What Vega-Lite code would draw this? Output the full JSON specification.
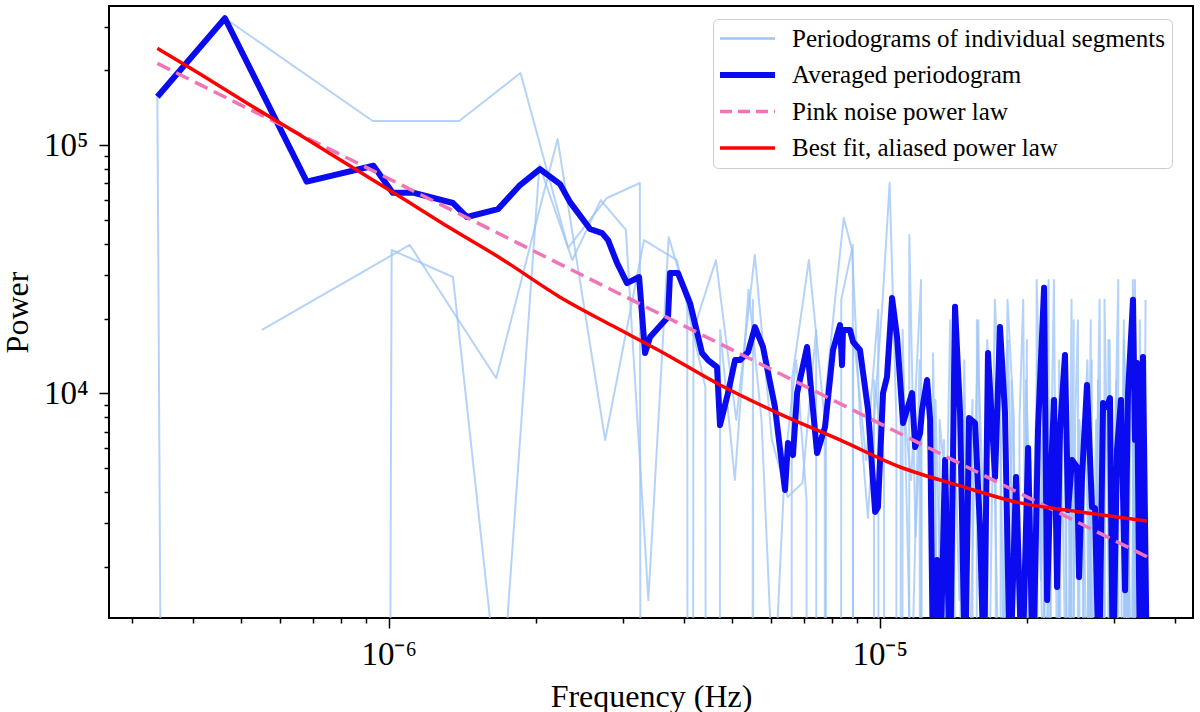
{
  "$schema": "https://vega.github.io/schema/vega-lite/v6.json",
  "width": 1084,
  "height": 612,
  "autosize": {"type": "none"},
  "padding": {"left": 109, "top": 6, "right": 7, "bottom": 94},
  "background": "white",
  "config": {
    "view": {"stroke": "black", "strokeWidth": 2},
    "font": "Liberation Serif"
  },
  "datasets": {
    "segments": [
      {"series":"seg","seg":"A","freq":3.38e-7,"power":156500},
      {"series":"seg","seg":"A","freq":6.76e-7,"power":1e-100},
      {"series":"seg","seg":"A","freq":1.014e-6,"power":37800},
      {"series":"seg","seg":"A","freq":1.352e-6,"power":29400},
      {"series":"seg","seg":"A","freq":1.69e-6,"power":500},
      {"series":"seg","seg":"A","freq":2.028e-6,"power":83000},
      {"series":"seg","seg":"A","freq":2.366e-6,"power":34400},
      {"series":"seg","seg":"A","freq":2.704e-6,"power":60000},
      {"series":"seg","seg":"A","freq":3.042e-6,"power":45500},
      {"series":"seg","seg":"A","freq":3.38e-6,"power":1470},
      {"series":"seg","seg":"A","freq":3.718e-6,"power":42600},
      {"series":"seg","seg":"A","freq":4.056e-6,"power":23800},
      {"series":"seg","seg":"A","freq":4.394e-6,"power":1e-100},
      {"series":"seg","seg":"A","freq":4.732e-6,"power":18000},
      {"series":"seg","seg":"A","freq":5.07e-6,"power":4480},
      {"series":"seg","seg":"A","freq":5.408e-6,"power":26100},
      {"series":"seg","seg":"A","freq":5.746e-6,"power":7810},
      {"series":"seg","seg":"A","freq":6.084e-6,"power":580},
      {"series":"seg","seg":"A","freq":6.422e-6,"power":5390},
      {"series":"seg","seg":"A","freq":6.76e-6,"power":13600},
      {"series":"seg","seg":"A","freq":7.098e-6,"power":3720},
      {"series":"seg","seg":"A","freq":7.436e-6,"power":1e-100},
      {"series":"seg","seg":"A","freq":7.774e-6,"power":10300},
      {"series":"seg","seg":"A","freq":8.112e-6,"power":23800},
      {"series":"seg","seg":"A","freq":8.45e-6,"power":50800},
      {"series":"seg","seg":"A","freq":8.788e-6,"power":37800},
      {"series":"seg","seg":"A","freq":9.126e-6,"power":7810},
      {"series":"seg","seg":"A","freq":9.464e-6,"power":3150},
      {"series":"seg","seg":"A","freq":9.802e-6,"power":9400},
      {"series":"seg","seg":"A","freq":1.014e-5,"power":23800},
      {"series":"seg","seg":"A","freq":1.0478e-5,"power":70300},
      {"series":"seg","seg":"A","freq":1.0816e-5,"power":7810},
      {"series":"seg","seg":"A","freq":1.1154e-5,"power":1e-100},
      {"series":"seg","seg":"A","freq":1.1492e-5,"power":43400},
      {"series":"seg","seg":"A","freq":1.183e-5,"power":2640},
      {"series":"seg","seg":"A","freq":1.2168e-5,"power":9400},
      {"series":"seg","seg":"A","freq":1.2506e-5,"power":1e-100},
      {"series":"seg","seg":"A","freq":1.2844e-5,"power":14500},
      {"series":"seg","seg":"A","freq":1.3182e-5,"power":580},
      {"series":"seg","seg":"A","freq":1.352e-5,"power":6490},
      {"series":"seg","seg":"A","freq":1.3858e-5,"power":1e-100},
      {"series":"seg","seg":"A","freq":1.4196e-5,"power":7810},
      {"series":"seg","seg":"A","freq":1.4534e-5,"power":1470},
      {"series":"seg","seg":"A","freq":1.4872e-5,"power":13600},
      {"series":"seg","seg":"A","freq":1.521e-5,"power":580},
      {"series":"seg","seg":"A","freq":1.5548e-5,"power":3720},
      {"series":"seg","seg":"A","freq":1.5886e-5,"power":19700},
      {"series":"seg","seg":"A","freq":1.6224e-5,"power":230},
      {"series":"seg","seg":"A","freq":1.6562e-5,"power":9400},
      {"series":"seg","seg":"A","freq":1.69e-5,"power":1e-100},
      {"series":"seg","seg":"A","freq":1.7238e-5,"power":4480},
      {"series":"seg","seg":"A","freq":1.7576e-5,"power":11300},
      {"series":"seg","seg":"A","freq":1.7914e-5,"power":580},
      {"series":"seg","seg":"A","freq":1.8252e-5,"power":16400},
      {"series":"seg","seg":"A","freq":1.859e-5,"power":3090},
      {"series":"seg","seg":"A","freq":1.8928e-5,"power":1e-100},
      {"series":"seg","seg":"A","freq":1.9266e-5,"power":7810},
      {"series":"seg","seg":"A","freq":1.9604e-5,"power":23800},
      {"series":"seg","seg":"A","freq":1.9942e-5,"power":230},
      {"series":"seg","seg":"A","freq":2.028e-5,"power":5390},
      {"series":"seg","seg":"A","freq":2.0618e-5,"power":1e-100},
      {"series":"seg","seg":"A","freq":2.0956e-5,"power":9400},
      {"series":"seg","seg":"A","freq":2.1294e-5,"power":1770},
      {"series":"seg","seg":"A","freq":2.1632e-5,"power":13600},
      {"series":"seg","seg":"A","freq":2.197e-5,"power":1e-100},
      {"series":"seg","seg":"A","freq":2.2308e-5,"power":4480},
      {"series":"seg","seg":"A","freq":2.2646e-5,"power":28600},
      {"series":"seg","seg":"A","freq":2.2984e-5,"power":580},
      {"series":"seg","seg":"A","freq":2.3322e-5,"power":6490},
      {"series":"seg","seg":"A","freq":2.366e-5,"power":1e-100},
      {"series":"seg","seg":"A","freq":2.3998e-5,"power":11300},
      {"series":"seg","seg":"A","freq":2.4336e-5,"power":2570},
      {"series":"seg","seg":"A","freq":2.4674e-5,"power":230},
      {"series":"seg","seg":"A","freq":2.5012e-5,"power":7810},
      {"series":"seg","seg":"A","freq":2.535e-5,"power":19700},
      {"series":"seg","seg":"A","freq":2.5688e-5,"power":1e-100},
      {"series":"seg","seg":"A","freq":2.6026e-5,"power":3720},
      {"series":"seg","seg":"A","freq":2.6364e-5,"power":9400},
      {"series":"seg","seg":"A","freq":2.6702e-5,"power":580},
      {"series":"seg","seg":"A","freq":2.704e-5,"power":13600},
      {"series":"seg","seg":"A","freq":2.7378e-5,"power":1e-100},
      {"series":"seg","seg":"A","freq":2.7716e-5,"power":5390},
      {"series":"seg","seg":"A","freq":2.8054e-5,"power":23800},
      {"series":"seg","seg":"A","freq":2.8392e-5,"power":230},
      {"series":"seg","seg":"A","freq":2.873e-5,"power":7810},
      {"series":"seg","seg":"A","freq":2.9068e-5,"power":1e-100},
      {"series":"seg","seg":"A","freq":2.9406e-5,"power":16400},
      {"series":"seg","seg":"A","freq":2.9744e-5,"power":2130},
      {"series":"seg","seg":"A","freq":3.0082e-5,"power":580},
      {"series":"seg","seg":"A","freq":3.042e-5,"power":9400},
      {"series":"seg","seg":"A","freq":3.0758e-5,"power":1e-100},
      {"series":"seg","seg":"A","freq":3.1096e-5,"power":4480},
      {"series":"seg","seg":"A","freq":3.1434e-5,"power":19700},
      {"series":"seg","seg":"A","freq":3.1772e-5,"power":230},
      {"series":"seg","seg":"A","freq":3.211e-5,"power":6490},
      {"series":"seg","seg":"A","freq":3.2448e-5,"power":1e-100},
      {"series":"seg","seg":"A","freq":3.2786e-5,"power":28600},
      {"series":"seg","seg":"A","freq":3.3124e-5,"power":1470},
      {"series":"seg","seg":"A","freq":3.3462e-5,"power":1e-100},
      {"series":"seg","seg":"A","freq":3.38e-5,"power":11300},
      {"series":"seg","seg":"A","freq":3.4138e-5,"power":580},
      {"series":"seg","seg":"A","freq":3.4476e-5,"power":13600},
      {"series":"seg","seg":"A","freq":3.4814e-5,"power":1e-100},
      {"series":"seg","seg":"B","freq":4.64e-7,"power":324000},
      {"series":"seg","seg":"B","freq":9.28e-7,"power":124900},
      {"series":"seg","seg":"B","freq":1.392e-6,"power":124900},
      {"series":"seg","seg":"B","freq":1.856e-6,"power":195000},
      {"series":"seg","seg":"B","freq":2.32e-6,"power":38500},
      {"series":"seg","seg":"B","freq":2.784e-6,"power":61200},
      {"series":"seg","seg":"B","freq":3.248e-6,"power":70300},
      {"series":"seg","seg":"B","freq":3.712e-6,"power":1e-100},
      {"series":"seg","seg":"B","freq":4.176e-6,"power":18000},
      {"series":"seg","seg":"B","freq":4.64e-6,"power":34400},
      {"series":"seg","seg":"B","freq":5.104e-6,"power":7810},
      {"series":"seg","seg":"B","freq":5.568e-6,"power":36100},
      {"series":"seg","seg":"B","freq":6.032e-6,"power":6490},
      {"series":"seg","seg":"B","freq":6.496e-6,"power":3820},
      {"series":"seg","seg":"B","freq":6.96e-6,"power":4350},
      {"series":"seg","seg":"B","freq":7.424e-6,"power":18000},
      {"series":"seg","seg":"B","freq":7.888e-6,"power":1e-100},
      {"series":"seg","seg":"B","freq":8.352e-6,"power":23800},
      {"series":"seg","seg":"B","freq":8.816e-6,"power":39600},
      {"series":"seg","seg":"B","freq":9.28e-6,"power":1e-100},
      {"series":"seg","seg":"B","freq":9.744e-6,"power":11300},
      {"series":"seg","seg":"B","freq":1.0208e-5,"power":5390},
      {"series":"seg","seg":"B","freq":1.0672e-5,"power":1e-100},
      {"series":"seg","seg":"B","freq":1.1136e-5,"power":18000},
      {"series":"seg","seg":"B","freq":1.16e-5,"power":580},
      {"series":"seg","seg":"B","freq":1.2064e-5,"power":13600},
      {"series":"seg","seg":"B","freq":1.2528e-5,"power":1e-100},
      {"series":"seg","seg":"B","freq":1.2992e-5,"power":9400},
      {"series":"seg","seg":"B","freq":1.3456e-5,"power":580},
      {"series":"seg","seg":"B","freq":1.392e-5,"power":19700},
      {"series":"seg","seg":"B","freq":1.4384e-5,"power":230},
      {"series":"seg","seg":"B","freq":1.4848e-5,"power":7810},
      {"series":"seg","seg":"B","freq":1.5312e-5,"power":1e-100},
      {"series":"seg","seg":"B","freq":1.5776e-5,"power":19700},
      {"series":"seg","seg":"B","freq":1.624e-5,"power":3720},
      {"series":"seg","seg":"B","freq":1.6704e-5,"power":580},
      {"series":"seg","seg":"B","freq":1.7168e-5,"power":23800},
      {"series":"seg","seg":"B","freq":1.7632e-5,"power":6490},
      {"series":"seg","seg":"B","freq":1.8096e-5,"power":1e-100},
      {"series":"seg","seg":"B","freq":1.856e-5,"power":11300},
      {"series":"seg","seg":"B","freq":1.9024e-5,"power":2130},
      {"series":"seg","seg":"B","freq":1.9488e-5,"power":230},
      {"series":"seg","seg":"B","freq":1.9952e-5,"power":16400},
      {"series":"seg","seg":"B","freq":2.0416e-5,"power":1e-100},
      {"series":"seg","seg":"B","freq":2.088e-5,"power":28600},
      {"series":"seg","seg":"B","freq":2.1344e-5,"power":5390},
      {"series":"seg","seg":"B","freq":2.1808e-5,"power":580},
      {"series":"seg","seg":"B","freq":2.2272e-5,"power":9400},
      {"series":"seg","seg":"B","freq":2.2736e-5,"power":1e-100},
      {"series":"seg","seg":"B","freq":2.32e-5,"power":13600},
      {"series":"seg","seg":"B","freq":2.3664e-5,"power":2570},
      {"series":"seg","seg":"B","freq":2.4128e-5,"power":230},
      {"series":"seg","seg":"B","freq":2.4592e-5,"power":23800},
      {"series":"seg","seg":"B","freq":2.5056e-5,"power":1e-100},
      {"series":"seg","seg":"B","freq":2.552e-5,"power":7810},
      {"series":"seg","seg":"B","freq":2.5984e-5,"power":4480},
      {"series":"seg","seg":"B","freq":2.6448e-5,"power":580},
      {"series":"seg","seg":"B","freq":2.6912e-5,"power":19700},
      {"series":"seg","seg":"B","freq":2.7376e-5,"power":1e-100},
      {"series":"seg","seg":"B","freq":2.784e-5,"power":11300},
      {"series":"seg","seg":"B","freq":2.8304e-5,"power":1770},
      {"series":"seg","seg":"B","freq":2.8768e-5,"power":1e-100},
      {"series":"seg","seg":"B","freq":2.9232e-5,"power":16400},
      {"series":"seg","seg":"B","freq":2.9696e-5,"power":230},
      {"series":"seg","seg":"B","freq":3.016e-5,"power":6490},
      {"series":"seg","seg":"B","freq":3.0624e-5,"power":28600},
      {"series":"seg","seg":"B","freq":3.1088e-5,"power":1e-100},
      {"series":"seg","seg":"B","freq":3.1552e-5,"power":9400},
      {"series":"seg","seg":"B","freq":3.2016e-5,"power":580},
      {"series":"seg","seg":"B","freq":3.248e-5,"power":13600},
      {"series":"seg","seg":"B","freq":3.2944e-5,"power":3720},
      {"series":"seg","seg":"B","freq":3.3408e-5,"power":1e-100},
      {"series":"seg","seg":"B","freq":3.3872e-5,"power":19700},
      {"series":"seg","seg":"B","freq":3.4336e-5,"power":230},
      {"series":"seg","seg":"B","freq":3.48e-5,"power":23800},
      {"series":"seg","seg":"C","freq":5.52e-7,"power":18000},
      {"series":"seg","seg":"C","freq":1.104e-6,"power":39600},
      {"series":"seg","seg":"C","freq":1.656e-6,"power":11500},
      {"series":"seg","seg":"C","freq":2.208e-6,"power":105700},
      {"series":"seg","seg":"C","freq":2.76e-6,"power":6490},
      {"series":"seg","seg":"C","freq":3.312e-6,"power":41400},
      {"series":"seg","seg":"C","freq":3.864e-6,"power":34400},
      {"series":"seg","seg":"C","freq":4.416e-6,"power":10600},
      {"series":"seg","seg":"C","freq":4.968e-6,"power":1e-100},
      {"series":"seg","seg":"C","freq":5.52e-6,"power":23800},
      {"series":"seg","seg":"C","freq":6.072e-6,"power":1e-100},
      {"series":"seg","seg":"C","freq":6.624e-6,"power":11300},
      {"series":"seg","seg":"C","freq":7.176e-6,"power":34400},
      {"series":"seg","seg":"C","freq":7.728e-6,"power":7810},
      {"series":"seg","seg":"C","freq":8.28e-6,"power":1e-100},
      {"series":"seg","seg":"C","freq":8.832e-6,"power":18000},
      {"series":"seg","seg":"C","freq":9.384e-6,"power":5390},
      {"series":"seg","seg":"C","freq":9.936e-6,"power":21700},
      {"series":"seg","seg":"C","freq":1.0488e-5,"power":1e-100},
      {"series":"seg","seg":"C","freq":1.104e-5,"power":11300},
      {"series":"seg","seg":"C","freq":1.1592e-5,"power":4480},
      {"series":"seg","seg":"C","freq":1.2144e-5,"power":28600},
      {"series":"seg","seg":"C","freq":1.2696e-5,"power":1e-100},
      {"series":"seg","seg":"C","freq":1.3248e-5,"power":7810},
      {"series":"seg","seg":"C","freq":1.38e-5,"power":3090},
      {"series":"seg","seg":"C","freq":1.4352e-5,"power":19700},
      {"series":"seg","seg":"C","freq":1.4904e-5,"power":580},
      {"series":"seg","seg":"C","freq":1.5456e-5,"power":9400},
      {"series":"seg","seg":"C","freq":1.6008e-5,"power":1e-100},
      {"series":"seg","seg":"C","freq":1.656e-5,"power":16400},
      {"series":"seg","seg":"C","freq":1.7112e-5,"power":5390},
      {"series":"seg","seg":"C","freq":1.7664e-5,"power":230},
      {"series":"seg","seg":"C","freq":1.8216e-5,"power":23800},
      {"series":"seg","seg":"C","freq":1.8768e-5,"power":7810},
      {"series":"seg","seg":"C","freq":1.932e-5,"power":1e-100},
      {"series":"seg","seg":"C","freq":1.9872e-5,"power":11300},
      {"series":"seg","seg":"C","freq":2.0424e-5,"power":2130},
      {"series":"seg","seg":"C","freq":2.0976e-5,"power":13600},
      {"series":"seg","seg":"C","freq":2.1528e-5,"power":580},
      {"series":"seg","seg":"C","freq":2.208e-5,"power":28600},
      {"series":"seg","seg":"C","freq":2.2632e-5,"power":1e-100},
      {"series":"seg","seg":"C","freq":2.3184e-5,"power":6490},
      {"series":"seg","seg":"C","freq":2.3736e-5,"power":9400},
      {"series":"seg","seg":"C","freq":2.4288e-5,"power":230},
      {"series":"seg","seg":"C","freq":2.484e-5,"power":19700},
      {"series":"seg","seg":"C","freq":2.5392e-5,"power":1e-100},
      {"series":"seg","seg":"C","freq":2.5944e-5,"power":5390},
      {"series":"seg","seg":"C","freq":2.6496e-5,"power":13600},
      {"series":"seg","seg":"C","freq":2.7048e-5,"power":580},
      {"series":"seg","seg":"C","freq":2.76e-5,"power":7810},
      {"series":"seg","seg":"C","freq":2.8152e-5,"power":1e-100},
      {"series":"seg","seg":"C","freq":2.8704e-5,"power":23800},
      {"series":"seg","seg":"C","freq":2.9256e-5,"power":2570},
      {"series":"seg","seg":"C","freq":2.9808e-5,"power":230},
      {"series":"seg","seg":"C","freq":3.036e-5,"power":11300},
      {"series":"seg","seg":"C","freq":3.0912e-5,"power":1e-100},
      {"series":"seg","seg":"C","freq":3.1464e-5,"power":16400},
      {"series":"seg","seg":"C","freq":3.2016e-5,"power":4480},
      {"series":"seg","seg":"C","freq":3.2568e-5,"power":580},
      {"series":"seg","seg":"C","freq":3.312e-5,"power":28600},
      {"series":"seg","seg":"C","freq":3.3672e-5,"power":1e-100},
      {"series":"seg","seg":"C","freq":3.4224e-5,"power":9400},
      {"series":"seg","seg":"C","freq":3.4776e-5,"power":13600}
    ],
    "averaged": [
      {"series":"avg","freq":3.38e-7,"power":156500},
      {"series":"avg","freq":4.64e-7,"power":324000},
      {"series":"avg","freq":6.81e-7,"power":71200},
      {"series":"avg","freq":9.31e-7,"power":82500},
      {"series":"avg","freq":1.019e-6,"power":64300},
      {"series":"avg","freq":1.121e-6,"power":64300},
      {"series":"avg","freq":1.352e-6,"power":58400},
      {"series":"avg","freq":1.444e-6,"power":51300},
      {"series":"avg","freq":1.67e-6,"power":55200},
      {"series":"avg","freq":1.852e-6,"power":69000},
      {"series":"avg","freq":2.033e-6,"power":80000},
      {"series":"avg","freq":2.234e-6,"power":69600},
      {"series":"avg","freq":2.341e-6,"power":58900},
      {"series":"avg","freq":2.571e-6,"power":45900},
      {"series":"avg","freq":2.721e-6,"power":44200},
      {"series":"avg","freq":2.798e-6,"power":41400},
      {"series":"avg","freq":2.918e-6,"power":33500},
      {"series":"avg","freq":3.058e-6,"power":27800},
      {"series":"avg","freq":3.236e-6,"power":29400},
      {"series":"avg","freq":3.328e-6,"power":14530},
      {"series":"avg","freq":3.407e-6,"power":16850},
      {"series":"avg","freq":3.707e-6,"power":20300},
      {"series":"avg","freq":3.742e-6,"power":30500},
      {"series":"avg","freq":3.884e-6,"power":30500},
      {"series":"avg","freq":4.109e-6,"power":23100},
      {"series":"avg","freq":4.347e-6,"power":14530},
      {"series":"avg","freq":4.471e-6,"power":13620},
      {"series":"avg","freq":4.664e-6,"power":12760},
      {"series":"avg","freq":4.73e-6,"power":7450},
      {"series":"avg","freq":4.911e-6,"power":10030},
      {"series":"avg","freq":5.075e-6,"power":13620},
      {"series":"avg","freq":5.195e-6,"power":13620},
      {"series":"avg","freq":5.395e-6,"power":14670},
      {"series":"avg","freq":5.573e-6,"power":18490},
      {"series":"avg","freq":5.786e-6,"power":15370},
      {"series":"avg","freq":6.12e-6,"power":8810},
      {"series":"avg","freq":6.415e-6,"power":4080},
      {"series":"avg","freq":6.506e-6,"power":6310},
      {"series":"avg","freq":6.66e-6,"power":5640},
      {"series":"avg","freq":6.79e-6,"power":10030},
      {"series":"avg","freq":7.115e-6,"power":15370},
      {"series":"avg","freq":7.457e-6,"power":5750},
      {"series":"avg","freq":7.74e-6,"power":7320},
      {"series":"avg","freq":8.036e-6,"power":14940},
      {"series":"avg","freq":8.304e-6,"power":18840},
      {"series":"avg","freq":8.382e-6,"power":13000},
      {"series":"avg","freq":8.42e-6,"power":17980},
      {"series":"avg","freq":8.7e-6,"power":17980},
      {"series":"avg","freq":8.83e-6,"power":16090},
      {"series":"avg","freq":9.12e-6,"power":14940},
      {"series":"avg","freq":9.47e-6,"power":8570},
      {"series":"avg","freq":9.79e-6,"power":3330},
      {"series":"avg","freq":9.92e-6,"power":3480},
      {"series":"avg","freq":1.016e-5,"power":10030},
      {"series":"avg","freq":1.035e-5,"power":11630},
      {"series":"avg","freq":1.06e-5,"power":24200},
      {"series":"avg","freq":1.085e-5,"power":16850},
      {"series":"avg","freq":1.116e-5,"power":7590},
      {"series":"avg","freq":1.164e-5,"power":10030},
      {"series":"avg","freq":1.181e-5,"power":6080},
      {"series":"avg","freq":1.209e-5,"power":6920},
      {"series":"avg","freq":1.22e-5,"power":8570},
      {"series":"avg","freq":1.249e-5,"power":11310},
      {"series":"avg","freq":1.267e-5,"power":7810},
      {"series":"avg","freq":1.285e-5,"power":700},
      {"series":"avg","freq":1.309e-5,"power":2130},
      {"series":"avg","freq":1.327e-5,"power":700},
      {"series":"avg","freq":1.359e-5,"power":5390},
      {"series":"avg","freq":1.391e-5,"power":700},
      {"series":"avg","freq":1.424e-5,"power":22300},
      {"series":"avg","freq":1.458e-5,"power":8330},
      {"series":"avg","freq":1.493e-5,"power":700},
      {"series":"avg","freq":1.521e-5,"power":7950},
      {"series":"avg","freq":1.564e-5,"power":7590},
      {"series":"avg","freq":1.601e-5,"power":2890},
      {"series":"avg","freq":1.631e-5,"power":700},
      {"series":"avg","freq":1.662e-5,"power":14530},
      {"series":"avg","freq":1.718e-5,"power":4600},
      {"series":"avg","freq":1.758e-5,"power":18490},
      {"series":"avg","freq":1.8e-5,"power":8330},
      {"series":"avg","freq":1.843e-5,"power":700},
      {"series":"avg","freq":1.896e-5,"power":4600},
      {"series":"avg","freq":1.95e-5,"power":700},
      {"series":"avg","freq":2.006e-5,"power":6020},
      {"series":"avg","freq":2.053e-5,"power":700},
      {"series":"avg","freq":2.102e-5,"power":7250},
      {"series":"avg","freq":2.162e-5,"power":26600},
      {"series":"avg","freq":2.193e-5,"power":1470},
      {"series":"avg","freq":2.224e-5,"power":3970},
      {"series":"avg","freq":2.266e-5,"power":9400},
      {"series":"avg","freq":2.298e-5,"power":1660},
      {"series":"avg","freq":2.33e-5,"power":7120},
      {"series":"avg","freq":2.385e-5,"power":14260},
      {"series":"avg","freq":2.419e-5,"power":3390},
      {"series":"avg","freq":2.465e-5,"power":5390},
      {"series":"avg","freq":2.524e-5,"power":5050},
      {"series":"avg","freq":2.547e-5,"power":1820},
      {"series":"avg","freq":2.583e-5,"power":4600},
      {"series":"avg","freq":2.644e-5,"power":10800},
      {"series":"avg","freq":2.707e-5,"power":3480},
      {"series":"avg","freq":2.745e-5,"power":3450},
      {"series":"avg","freq":2.797e-5,"power":700},
      {"series":"avg","freq":2.851e-5,"power":9140},
      {"series":"avg","freq":2.904e-5,"power":8810},
      {"series":"avg","freq":2.945e-5,"power":9570},
      {"series":"avg","freq":2.987e-5,"power":700},
      {"series":"avg","freq":3.044e-5,"power":5910},
      {"series":"avg","freq":3.101e-5,"power":9400},
      {"series":"avg","freq":3.161e-5,"power":1610},
      {"series":"avg","freq":3.205e-5,"power":10030},
      {"series":"avg","freq":3.281e-5,"power":23800},
      {"series":"avg","freq":3.312e-5,"power":6490},
      {"series":"avg","freq":3.343e-5,"power":13240},
      {"series":"avg","freq":3.39e-5,"power":700},
      {"series":"avg","freq":3.438e-5,"power":14000},
      {"series":"avg","freq":3.503e-5,"power":700}
    ],
    "pink": [
      {"series":"pink","freq":3.38e-7,"power":213300},
      {"series":"pink","freq":3.503e-5,"power":2198}
    ],
    "fit": [
      {"series":"fit","freq":3.38e-7,"power":245100},
      {"series":"fit","freq":4.13e-7,"power":193100},
      {"series":"fit","freq":5.22e-7,"power":144900},
      {"series":"fit","freq":6.6e-7,"power":109700},
      {"series":"fit","freq":8.35e-7,"power":82300},
      {"series":"fit","freq":1.055e-6,"power":61900},
      {"series":"fit","freq":1.334e-6,"power":46300},
      {"series":"fit","freq":1.686e-6,"power":35100},
      {"series":"fit","freq":2.234e-6,"power":24400},
      {"series":"fit","freq":2.864e-6,"power":18660},
      {"series":"fit","freq":3.569e-6,"power":14810},
      {"series":"fit","freq":4.732e-6,"power":10800},
      {"series":"fit","freq":6.27e-6,"power":8250},
      {"series":"fit","freq":8.3e-6,"power":6490},
      {"series":"fit","freq":1.1e-5,"power":5050},
      {"series":"fit","freq":1.458e-5,"power":4240},
      {"series":"fit","freq":1.932e-5,"power":3620},
      {"series":"fit","freq":2.559e-5,"power":3330},
      {"series":"fit","freq":3.503e-5,"power":3060}
    ]
  },
  "encoding": {
    "x": {
      "field": "freq",
      "type": "quantitative",
      "scale": {"type": "log", "domain": [2.694e-7, 4.347e-5], "nice": false, "zero": false},
      "axis": {
        "title": "Frequency (Hz)",
        "values": [3e-7, 4e-7, 5e-7, 6e-7, 7e-7, 8e-7, 9e-7, 1e-6, 2e-6, 3e-6, 4e-6, 5e-6, 6e-6, 7e-6, 8e-6, 9e-6, 1e-5, 2e-5, 3e-5, 4e-5],
        "labelExpr": "abs(log(datum.value)/LN10 - round(log(datum.value)/LN10)) < 0.01 ? (round(log(datum.value)/LN10) == -6 ? '10⁻⁶' : '10⁻⁵') : ''",
        "tickSize": {"condition": {"test": "abs(log(datum.value)/LN10 - round(log(datum.value)/LN10)) < 0.01", "value": 10}, "value": 5},
        "tickWidth": 1.5,
        "tickColor": "black",
        "domain": false,
        "grid": false,
        "labelFont": "Liberation Serif",
        "labelFontSize": 33,
        "labelColor": "black",
        "labelPadding": 10,
        "labelFlush": false,
        "labelOverlap": false,
        "titleFont": "Liberation Serif",
        "titleFontSize": 32,
        "titleFontWeight": "normal",
        "titleColor": "black",
        "titleY": 88,
        "titleBaseline": "alphabetic"
      }
    },
    "y": {
      "field": "power",
      "type": "quantitative",
      "scale": {"type": "log", "domain": [1245, 363000], "nice": false, "zero": false},
      "axis": {
        "title": "Power",
        "values": [2000, 3000, 4000, 5000, 6000, 7000, 8000, 9000, 10000, 20000, 30000, 40000, 50000, 60000, 70000, 80000, 90000, 100000, 200000, 300000],
        "labelExpr": "abs(log(datum.value)/LN10 - round(log(datum.value)/LN10)) < 0.01 ? (round(log(datum.value)/LN10) == 4 ? '10⁴' : '10⁵') : ''",
        "tickSize": {"condition": {"test": "abs(log(datum.value)/LN10 - round(log(datum.value)/LN10)) < 0.01", "value": 10}, "value": 5},
        "tickWidth": 1.5,
        "tickColor": "black",
        "domain": false,
        "grid": false,
        "labelFont": "Liberation Serif",
        "labelFontSize": 33,
        "labelColor": "black",
        "labelPadding": 11,
        "labelFlush": false,
        "labelOverlap": false,
        "titleFont": "Liberation Serif",
        "titleFontSize": 32,
        "titleFontWeight": "normal",
        "titleColor": "black",
        "titleX": -92,
        "titleY": 306,
        "titleAlign": "center",
        "titleBaseline": "middle"
      }
    },
    "color": {
      "field": "series",
      "type": "nominal",
      "scale": {
        "domain": ["seg", "avg", "pink", "fit"],
        "range": ["#9cc4f5", "#0b0bf0", "#f075b8", "#ff0000"]
      },
      "legend": {
        "orient": "none",
        "legendX": 604,
        "legendY": 13,
        "title": null,
        "symbolType": "M-1,0H3.4",
        "symbolSize": 625,
        "symbolStrokeWidth": {"expr": "datum.value == 'avg' ? 6 : datum.value == 'seg' ? 2.5 : 3.5"},
        "symbolDash": {"expr": "datum.value == 'pink' ? [12, 6] : [1, 0]"},
        "labelFont": "Liberation Serif",
        "labelFontSize": 25,
        "labelColor": "black",
        "labelLimit": 600,
        "labelOffset": 47,
        "labelExpr": "datum.label == 'seg' ? 'Periodograms of individual segments' : datum.label == 'avg' ? 'Averaged periodogram' : datum.label == 'pink' ? 'Pink noise power law' : 'Best fit, aliased power law'",
        "padding": 7,
        "rowPadding": 10.5,
        "strokeColor": "#cccccc",
        "cornerRadius": 5,
        "fillColor": "rgba(255,255,255,0.8)"
      }
    }
  },
  "layer": [
    {
      "data": {"name": "segments"},
      "mark": {"type": "line", "clip": true, "strokeWidth": 2, "strokeOpacity": 0.75, "strokeJoin": "round"},
      "encoding": {"detail": {"field": "seg"}}
    },
    {
      "data": {"name": "averaged"},
      "mark": {"type": "line", "clip": true, "strokeWidth": 6, "strokeJoin": "round"}
    },
    {
      "data": {"name": "pink"},
      "mark": {"type": "line", "clip": true, "strokeWidth": 3.5, "strokeDash": [14, 7]}
    },
    {
      "data": {"name": "fit"},
      "mark": {"type": "line", "clip": true, "strokeWidth": 3.5, "interpolate": "monotone"}
    }
  ]
}
